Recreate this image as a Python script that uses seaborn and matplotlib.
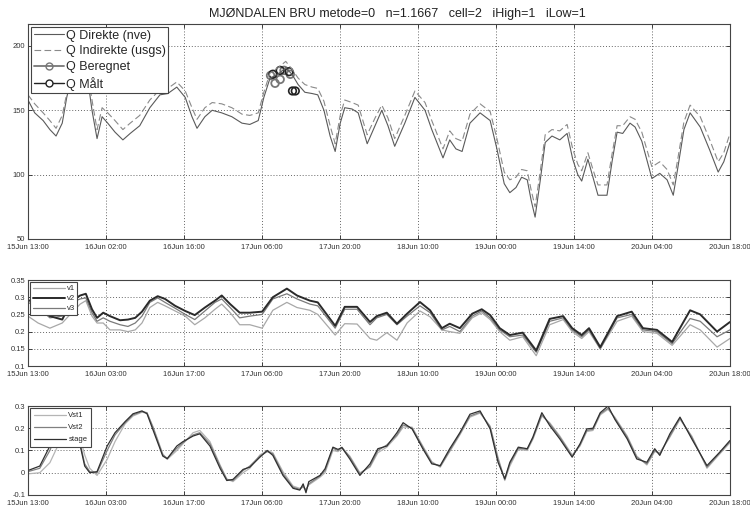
import matplotlib
matplotlib.use("Agg")
import matplotlib.pyplot as plt
from matplotlib.lines import Line2D
import seaborn as sns

# Tid i timer fra 15Jun 13:00
t_q = [0, 1.2, 2.7, 3.9, 5.0, 6.1, 6.9, 8.0, 9.3, 10.3, 11.4, 12.3, 13.2, 14.2, 15.5, 16.9,
       18.2, 19.9, 21.7, 23.5, 24.9, 26.5, 28.0, 29.2, 30.1, 31.5, 32.8, 34.5, 36.3, 38.1,
       39.5, 41.0, 42.0, 43.1, 44.5, 45.9, 47.0, 48.1, 49.3, 50.6, 51.6, 52.7, 53.8, 54.7,
       55.6, 56.4, 57.7, 58.8, 60.4, 61.8, 63.0, 64.1, 65.3, 67.1, 68.9, 70.7, 71.9, 73.9,
       75.1, 76.2, 77.3, 78.7, 80.5, 82.3, 83.5, 84.8, 85.8, 86.9, 87.9, 88.9, 89.6, 90.3,
       91.2, 92.1, 93.3, 94.7, 96.0, 97.0, 97.9, 98.6, 99.7, 100.6, 101.5, 103.1, 104.0,
       104.9, 105.9, 107.2, 108.1, 109.3, 111.1, 112.5, 113.8, 114.9, 115.7, 116.8, 117.9,
       119.7, 121.4, 122.9, 123.9, 125.0]
q_direkte = [158, 148, 142, 135, 130, 140, 160, 180, 195, 185, 150, 128, 145, 140, 133, 127,
             132, 138, 152, 162, 163, 168, 160, 145, 136, 145, 150, 148, 145, 140,
             139, 142, 160, 175, 178, 183, 178, 170, 164, 163, 162, 150, 130, 118,
             140, 152, 151, 148, 124, 138, 150, 138, 122, 140, 160, 150, 135, 113,
             127, 120, 118, 140, 148, 142, 120, 93, 86, 90, 98, 96, 80, 67,
             95, 125, 130, 127, 132, 112, 100, 95, 112, 98, 84, 84, 110,
             133, 132, 140, 137, 126, 97, 101, 96, 84, 105, 135, 148,
             137, 119, 102, 110, 125]
q_indirekte = [162, 155, 148, 142, 136, 146, 163, 183, 198, 190, 158, 135, 152, 148, 142, 135,
               140, 146, 158, 166, 167, 172, 165, 152, 143, 152, 156, 155, 152, 147,
               146, 148, 164, 179, 183, 188, 182, 175, 170, 168, 167, 157, 138, 124,
               146, 158, 156, 154, 131, 144, 154, 144, 128, 146, 165, 156, 142, 120,
               134, 128, 126, 147, 155, 149, 128, 102, 96, 98, 104, 103, 88, 75,
               102, 131, 135, 134, 139, 120, 108, 103, 117, 104, 92, 92, 116,
               138, 138, 145, 143, 133, 106, 110, 104, 92, 112, 141, 154,
               145, 127, 110, 117, 132]
t_beregnet = [43.2, 44.0, 44.9, 45.6, 46.7]
q_beregnet = [177, 171, 174, 181, 178]
t_maalt = [43.6, 44.9, 46.5, 47.1, 47.6]
q_maalt = [178, 181, 180, 165, 165]

t_v = [0, 1.8, 3.9, 6.1, 7.8, 9.3, 10.3, 11.4, 12.3, 13.4, 14.6, 16.4, 17.8, 19.1, 20.3,
       21.7, 23.1, 24.4, 26.2, 28.0, 29.7, 31.5, 33.3, 34.5, 36.0, 37.7, 39.5, 41.7, 43.6,
       46.1, 47.9, 50.2, 51.6, 54.7, 56.4, 58.6, 60.9, 62.1, 63.9, 65.7, 67.5, 69.8, 71.6,
       73.7, 75.1, 76.9, 79.1, 80.8, 82.3, 84.0, 85.8, 88.1, 90.5, 92.9, 95.3, 96.9, 98.6,
       99.9, 101.9, 104.9, 107.5, 109.5, 112.0, 114.7, 117.9, 119.7, 122.7, 125.0]
v2 = [0.292, 0.28, 0.245, 0.235, 0.29, 0.305, 0.31, 0.265, 0.24, 0.255, 0.245, 0.233, 0.235,
      0.24, 0.258, 0.29, 0.303, 0.295, 0.275, 0.26, 0.248, 0.27, 0.29, 0.305, 0.28, 0.255,
      0.255, 0.258, 0.3, 0.325, 0.305, 0.29, 0.285, 0.217, 0.272, 0.272, 0.228, 0.245, 0.255,
      0.223, 0.252, 0.286, 0.262, 0.21, 0.223, 0.21, 0.252, 0.265, 0.248, 0.21, 0.19, 0.197,
      0.145, 0.237, 0.245, 0.21, 0.19, 0.21, 0.155, 0.245, 0.258, 0.21, 0.205, 0.17, 0.262,
      0.25, 0.2, 0.228]
v3 = [0.285, 0.27, 0.24, 0.245, 0.285, 0.295, 0.298, 0.255, 0.23, 0.24, 0.23, 0.22, 0.215,
      0.225, 0.245, 0.285, 0.298, 0.285, 0.268, 0.25, 0.235, 0.26, 0.285, 0.295, 0.27, 0.24,
      0.245, 0.25, 0.295, 0.31, 0.295, 0.28, 0.275, 0.21, 0.265, 0.265, 0.22, 0.24, 0.25,
      0.22, 0.245, 0.275, 0.255, 0.205, 0.215, 0.2, 0.245, 0.26, 0.24, 0.205, 0.185, 0.19,
      0.14, 0.23, 0.24, 0.205, 0.185, 0.205, 0.15, 0.24, 0.25, 0.205, 0.2, 0.165, 0.238,
      0.23, 0.185, 0.205]
v1 = [0.245, 0.225, 0.21, 0.225, 0.255, 0.28, 0.29, 0.245, 0.225, 0.225, 0.205, 0.205, 0.2,
      0.205, 0.225, 0.27, 0.285, 0.275, 0.26, 0.245, 0.22, 0.24, 0.265, 0.28, 0.255, 0.22,
      0.22, 0.21, 0.262, 0.285, 0.27, 0.262, 0.25, 0.19, 0.223, 0.222, 0.18, 0.175, 0.197,
      0.175, 0.225, 0.26, 0.243, 0.205, 0.2, 0.195, 0.24, 0.255, 0.235, 0.2, 0.175, 0.185,
      0.13, 0.22, 0.235, 0.2, 0.18, 0.2, 0.15, 0.23, 0.245, 0.2, 0.195, 0.16, 0.22,
      0.205, 0.155, 0.18]

t_s = [0, 2.1, 3.9, 5.3, 6.8, 7.8, 8.7, 10.1, 11.0, 12.3, 14.1, 15.5, 17.3, 18.7, 20.3, 21.2,
       22.3, 24.0, 24.8, 26.5, 27.6, 29.4, 30.6, 32.4, 34.2, 35.4, 36.5, 38.3, 39.5, 41.3,
       42.6, 43.6, 45.4, 47.2, 48.4, 49.0, 49.5, 50.0, 52.0, 52.9, 54.3, 55.2, 55.9, 57.3,
       59.1, 60.9, 62.3, 63.9, 65.7, 66.8, 68.4, 70.3, 71.9, 73.4, 75.1, 76.9, 78.7, 80.5,
       82.3, 83.7, 84.9, 85.8, 87.3, 88.9, 89.9, 91.5, 92.9, 94.7, 96.9, 98.3, 99.5, 100.6,
       101.9, 103.3, 104.5, 106.7, 108.4, 110.2, 111.6, 112.5, 114.3, 116.1, 118.2, 120.9,
       123.2, 125.0]
stage = [0.01, 0.03, 0.12, 0.2, 0.25, 0.24, 0.19, 0.03, 0.0, 0.005, 0.12, 0.18, 0.23, 0.265,
         0.278, 0.265, 0.19, 0.075, 0.063, 0.12, 0.14, 0.165, 0.175, 0.12, 0.02, -0.035,
         -0.03, 0.015, 0.025, 0.07, 0.1, 0.078, -0.012, -0.07, -0.078, -0.05, -0.09, -0.04,
         -0.012, 0.018, 0.115, 0.105, 0.113, 0.062, -0.012, 0.04, 0.108, 0.12, 0.18, 0.225,
         0.197, 0.108, 0.04, 0.032, 0.108, 0.18, 0.263, 0.278, 0.197, 0.047, -0.027, 0.047,
         0.115, 0.108, 0.16, 0.27, 0.212, 0.152, 0.07, 0.13, 0.197, 0.2, 0.27, 0.3, 0.24,
         0.152, 0.062, 0.047, 0.108, 0.078, 0.175, 0.25, 0.152, 0.032, 0.093, 0.145]
vst2 = [0.005, 0.02, 0.1, 0.19, 0.245, 0.24, 0.2, 0.04, 0.005, 0.0, 0.1, 0.17, 0.225, 0.26,
        0.275, 0.27, 0.2, 0.08, 0.065, 0.11, 0.135, 0.17, 0.18, 0.13, 0.03, -0.03,
        -0.035, 0.01, 0.03, 0.075, 0.095, 0.085, -0.005, -0.065, -0.075, -0.06, -0.08, -0.05,
        -0.015, 0.01, 0.11, 0.1, 0.115, 0.07, -0.005, 0.03, 0.1, 0.125, 0.17, 0.215,
        0.2, 0.115, 0.045, 0.028, 0.1, 0.175, 0.255, 0.272, 0.205, 0.06, -0.03, 0.04,
        0.11, 0.105, 0.155, 0.26, 0.22, 0.16, 0.075, 0.125, 0.19, 0.195, 0.265, 0.29, 0.245,
        0.16, 0.07, 0.04, 0.1, 0.085, 0.165, 0.245, 0.16, 0.025, 0.09, 0.14]
vst1 = [-0.005, 0.0, 0.045, 0.12, 0.22, 0.24, 0.215, 0.08, 0.02, -0.012, 0.06, 0.14, 0.22,
        0.255, 0.272, 0.268, 0.205, 0.085, 0.06, 0.1, 0.13, 0.18, 0.19, 0.14, 0.035, -0.028,
        -0.04, 0.0, 0.02, 0.08, 0.1, 0.09, 0.005, -0.06, -0.07, -0.065, -0.075, -0.055,
        -0.02, 0.0, 0.1, 0.095, 0.11, 0.075, 0.0, 0.025, 0.09, 0.115, 0.165, 0.205,
        0.205, 0.12, 0.05, 0.025, 0.095, 0.17, 0.25, 0.268, 0.21, 0.07, -0.035, 0.03,
        0.105, 0.1, 0.15, 0.255, 0.225, 0.165, 0.08, 0.12, 0.185, 0.19, 0.26, 0.285, 0.25,
        0.165, 0.075, 0.035, 0.095, 0.09, 0.16, 0.24, 0.165, 0.02, 0.085, 0.135]

labels_top = ["15Jun 13:00", "16Jun 02:00", "16Jun 16:00", "17Jun 06:00", "17Jun 20:00",
              "18Jun 10:00", "19Jun 00:00", "19Jun 14:00", "20Jun 04:00", "20Jun 18:00"]
labels_low = ["15Jun 13:00", "16Jun 03:00", "16Jun 17:00", "17Jun 06:00", "17Jun 20:00",
              "18Jun 10:00", "19Jun 00:00", "19Jun 14:00", "20Jun 04:00", "20Jun 18:00"]
tick_pos = [125 / 9 * k for k in range(10)]

sns.set_style("white")
plt.rcParams['font.family'] = ['Liberation Sans', 'DejaVu Sans']

fig = plt.figure(figsize=(7.5, 5.07), dpi=100)
ax1 = fig.add_axes([0.0373, 0.5286, 0.936, 0.424])
ax2 = fig.add_axes([0.0373, 0.2781, 0.936, 0.1696])
ax3 = fig.add_axes([0.0373, 0.0237, 0.936, 0.1755])


def style_axis(ax, ylim, yticks, yticklabels, xlabels):
    ax.set_xlim(0, 125)
    ax.set_ylim(*ylim)
    ax.set_xticks(tick_pos)
    ax.set_xticklabels(xlabels, fontsize=5.5, color="#333333")
    ax.set_yticks(yticks)
    ax.set_yticklabels(yticklabels, fontsize=5.5, color="#333333")
    ax.grid(True, linestyle=(0, (1, 2)), color="#666666", linewidth=0.7)
    ax.tick_params(direction="in", length=3, width=0.6, pad=2, top=True, right=True,
                   bottom=True, left=True, labeltop=False, labelright=False)
    ax.tick_params(axis="x", pad=3.5)
    for s in ax.spines.values():
        s.set_color("#444444")
        s.set_linewidth(0.8)
    ax.set_xlabel("")
    ax.set_ylabel("")


# Øverste panel: vannføring
sns.lineplot(x=t_q, y=q_direkte, ax=ax1, color="#5a5a5a", linewidth=0.8)
sns.lineplot(x=t_q, y=q_indirekte, ax=ax1, color="#8a8a8a", linewidth=0.8, linestyle=(0, (6, 3)))
sns.scatterplot(x=t_beregnet, y=q_beregnet, ax=ax1, marker="o", s=30, facecolor="none",
                edgecolor="#777777", linewidth=1.3)
sns.scatterplot(x=t_maalt, y=q_maalt, ax=ax1, marker="o", s=30, facecolor="none",
                edgecolor="#222222", linewidth=1.2)
style_axis(ax1, (50, 217), [50, 100, 150, 200], ["50", "100", "150", "200"], labels_top)
h1 = [Line2D([], [], color="#5a5a5a", lw=0.8),
      Line2D([], [], color="#8a8a8a", lw=0.8, ls=(0, (6, 3))),
      Line2D([], [], color="#777777", lw=1.3, marker="o", mfc="none", mec="#777777", ms=5),
      Line2D([], [], color="#222222", lw=1.0, marker="o", mfc="white", mec="#222222", ms=5)]
leg1 = ax1.legend(h1, ["Q Direkte (nve)", "Q Indirekte (usgs)", "Q Beregnet", "Q Målt"],
                  loc="upper left", fontsize=9, frameon=True, fancybox=False,
                  edgecolor="#444444", framealpha=1, handlelength=2.4, handletextpad=0.2,
                  labelspacing=0.3, borderpad=0.2, borderaxespad=0.25)
leg1.get_frame().set_linewidth(0.8)

# Midtre panel: hastigheter
sns.lineplot(x=t_v, y=v1, ax=ax2, color="#a8a8a8", linewidth=0.9)
sns.lineplot(x=t_v, y=v3, ax=ax2, color="#7a7a7a", linewidth=0.9)
sns.lineplot(x=t_v, y=v2, ax=ax2, color="#2a2a2a", linewidth=1.4)
style_axis(ax2, (0.1, 0.35), [0.1, 0.15, 0.2, 0.25, 0.3, 0.35],
           ["0.1", "0.15", "0.2", "0.25", "0.3", "0.35"], labels_low)
h2 = [Line2D([], [], color="#a8a8a8", lw=0.9),
      Line2D([], [], color="#2a2a2a", lw=1.4),
      Line2D([], [], color="#7a7a7a", lw=0.9)]
leg2 = ax2.legend(h2, ["v1", "v2", "v3"], loc="upper left", fontsize=5.5, frameon=True,
                  fancybox=False, edgecolor="#444444", framealpha=1, handlelength=4.2,
                  handletextpad=0.2, labelspacing=0.35, borderpad=0.35, borderaxespad=0.3)
leg2.get_frame().set_linewidth(0.8)

# Nederste panel: vannstand
sns.lineplot(x=t_s, y=vst1, ax=ax3, color="#b5b5b5", linewidth=0.9)
sns.lineplot(x=t_s, y=vst2, ax=ax3, color="#808080", linewidth=0.9)
sns.lineplot(x=t_s, y=stage, ax=ax3, color="#303030", linewidth=0.9)
style_axis(ax3, (-0.1, 0.3), [-0.1, 0, 0.1, 0.2, 0.3], ["-0.1", "0", "0.1", "0.2", "0.3"],
           labels_low)
h3 = [Line2D([], [], color="#b5b5b5", lw=0.9),
      Line2D([], [], color="#808080", lw=0.9),
      Line2D([], [], color="#303030", lw=0.9)]
leg3 = ax3.legend(h3, ["Vst1", "Vst2", "stage"], loc="upper left", fontsize=5.5, frameon=True,
                  fancybox=False, edgecolor="#444444", framealpha=1, handlelength=4.2,
                  handletextpad=0.3, labelspacing=0.6, borderpad=0.5, borderaxespad=0.3)
leg3.get_frame().set_linewidth(0.8)

fig.text(0.53, 0.972, "MJØNDALEN BRU metode=0   n=1.1667   cell=2   iHigh=1   iLow=1",
         ha="center", va="center", fontsize=9, color="#222222")

plt.savefig("out.png", dpi=100)
